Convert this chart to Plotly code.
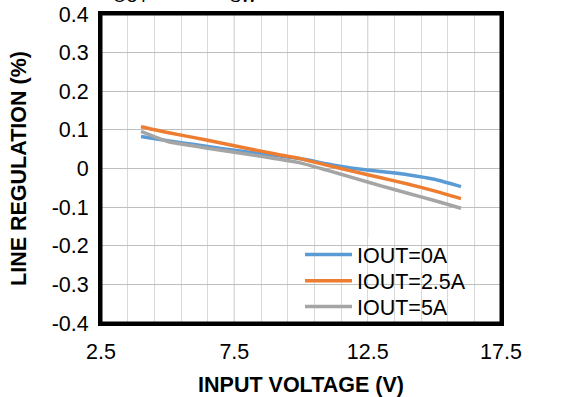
import plotly.graph_objects as go

vin = [4, 5, 6, 7, 8, 9, 10, 11, 12, 13, 14, 15, 16]
reg_0a = [0.083, 0.072, 0.062, 0.052, 0.043, 0.034, 0.025, 0.012, 0.000, -0.008, -0.016, -0.028, -0.047]
reg_2p5a = [0.108, 0.093, 0.080, 0.066, 0.052, 0.038, 0.025, 0.008, -0.008, -0.024, -0.040, -0.058, -0.078]
reg_5a = [0.096, 0.070, 0.058, 0.047, 0.037, 0.026, 0.014, -0.005, -0.025, -0.045, -0.064, -0.083, -0.103]
names = ["IOUT=0A", "IOUT=2.5A", "IOUT=5A"]
colors = ["#5B9BD5", "#ED7D31", "#A5A5A5"]
x_labels = [2.5, 7.5, 12.5, 17.5]
x_grid = [2.5 + i for i in range(16)]
y_ticks = [0.4, 0.3, 0.2, 0.1, 0, -0.1, -0.2, -0.3, -0.4]
x_range = [2.5, 17.5]
y_range = [-0.4, 0.4]

FONT = "Liberation Sans, Arial, sans-serif"
FS = 21.5

legend_ids = ["legend", "legend2", "legend3"]
legend_rows = [0.222, 0.137, 0.053]

fig = go.Figure()
for name, ys, c, lid in zip(names, [reg_0a, reg_2p5a, reg_5a], colors, legend_ids):
    fig.add_trace(go.Scatter(x=vin, y=ys, name=name, mode="lines", legend=lid,
                             line=dict(color=c, width=3.5, shape="spline", smoothing=0.6)))

# darker major vertical gridlines
for xv in x_labels[1:-1]:
    fig.add_shape(type="line", xref="x", yref="paper", x0=xv, x1=xv, y0=0, y1=1,
                  line=dict(color="#A6A6A6", width=1), layer="below")
# white legend backdrop: data-referenced 'below' shape sits above gridlines, under traces
fig.add_shape(type="rect", xref="x", yref="y", x0=9.0, x1=x_range[1], y0=y_range[0], y1=-0.178,
              fillcolor="white", line=dict(width=0), layer="below")
# plot frame
fig.add_shape(type="rect", xref="paper", yref="paper", x0=0, x1=1, y0=0, y1=1,
              line=dict(color="black", width=3), fillcolor="rgba(0,0,0,0)", layer="above")

legend_style = dict(x=0.4975, xanchor="left", yanchor="middle", bgcolor="rgba(0,0,0,0)",
                    font=dict(size=FS, family=FONT), itemwidth=47)
fig.update_layout(
    width=580, height=397,
    margin=dict(l=101, r=79, t=14, b=74, autoexpand=False),
    paper_bgcolor="white", plot_bgcolor="white",
    font=dict(family=FONT, size=FS, color="black"),
    showlegend=True,
    legend=dict(y=legend_rows[0], **legend_style),
    legend2=dict(y=legend_rows[1], **legend_style),
    legend3=dict(y=legend_rows[2], **legend_style),
    annotations=[dict(text="V<sub>OUT</sub> = 5 V, <i>f</i><sub>SW</sub> = 500 kHz", xref="paper", yref="paper",
                      x=-0.016, y=1, xanchor="left", yanchor="bottom", yshift=6, showarrow=False,
                      font=dict(size=24, family=FONT))],
)
fig.update_xaxes(
    range=x_range, tickvals=x_grid,
    ticktext=[(f"{v:g}" if v in x_labels else "") for v in x_grid],
    showgrid=True, gridcolor="#D9D9D9", gridwidth=1,
    showline=True, linecolor="black", linewidth=3, mirror=True,
    ticks="outside", ticklen=7, tickcolor="rgba(0,0,0,0)",
    zeroline=False, tickfont=dict(size=FS), automargin=False,
    title=dict(text="<b>INPUT VOLTAGE (V)</b>", font=dict(size=FS), standoff=19),
)
fig.update_yaxes(
    range=y_range, tickvals=y_ticks, ticktext=[f"{v:g}" for v in y_ticks],
    showgrid=True, gridcolor="#BFBFBF", gridwidth=1,
    showline=True, linecolor="black", linewidth=3, mirror=True,
    ticks="outside", ticklen=5, tickcolor="rgba(0,0,0,0)",
    zeroline=False, tickfont=dict(size=FS), automargin=False,
    title=dict(text="<b>LINE REGULATION (%)</b>", font=dict(size=FS), standoff=20),
)

fig.write_html("out.html")
